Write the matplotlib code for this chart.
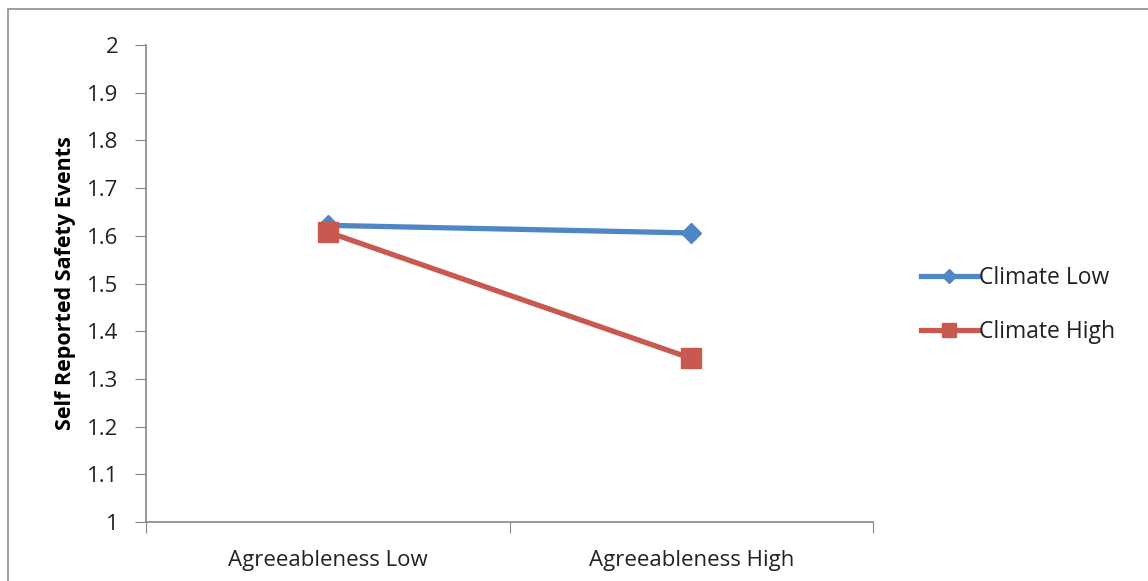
import matplotlib
matplotlib.use("Agg")
import matplotlib.pyplot as plt
from matplotlib.patches import Rectangle

# Data
categories = ["Agreeableness Low", "Agreeableness High"]
climate_low = [1.622, 1.606]
climate_high = [1.608, 1.343]
y_ticks = [1, 1.1, 1.2, 1.3, 1.4, 1.5, 1.6, 1.7, 1.8, 1.9, 2]
y_tick_labels = ["1", "1.1", "1.2", "1.3", "1.4", "1.5", "1.6", "1.7", "1.8", "1.9", "2"]

plt.rcParams['font.family'] = ['Open Sans', 'DejaVu Sans']
text_color = '#222222'

fig = plt.figure(figsize=(11.48, 5.81), dpi=100)
ax = fig.add_axes([0.1272, 0.1015, 0.6333, 0.821])

# outer chart frame
fig.patches.append(Rectangle((8 / 1148, -0.1), 1.2, 1.1 - 9 / 581,
                             transform=fig.transFigure, fill=False,
                             edgecolor='#8c8c8c', linewidth=1.2))

x = list(range(len(categories)))
ax.plot(x, climate_low, color='#4F86C6', linewidth=3.8, marker='D',
        markersize=10, label='Climate Low', zorder=3)
ax.plot(x, climate_high, color='#C9584F', linewidth=3.8, marker='s',
        markersize=14, label='Climate High', zorder=4)

ax.set_xlim(-0.5, len(categories) - 0.5)
ax.set_ylim(1, 2)

# category axis: tick marks between categories, labels in the middle
ax.set_xticks([i - 0.5 for i in range(len(categories) + 1)])
ax.set_xticklabels([])
ax.set_xticks(x, minor=True)
ax.set_xticklabels(categories, minor=True, fontsize=16, color=text_color)
ax.tick_params(axis='x', which='major', length=8, color='#868686', direction='out')
ax.tick_params(axis='x', which='minor', length=0, pad=20)

ax.set_yticks(y_ticks)
ax.set_yticklabels(y_tick_labels, fontsize=16, color=text_color)
ax.tick_params(axis='y', length=8, color='#868686', direction='out', pad=12)

for side in ['top', 'right']:
    ax.spines[side].set_visible(False)
for side in ['left', 'bottom']:
    ax.spines[side].set_color('#868686')
    ax.spines[side].set_linewidth(1.2)

ax.set_ylabel('Self Reported Safety Events', fontsize=15.5, fontweight='bold',
              labelpad=8, color='black')

ax.legend(loc='center left', bbox_to_anchor=(900 / 1148, 1 - 305 / 581),
          bbox_transform=fig.transFigure, frameon=False, fontsize=16.5,
          handlelength=2.5, handletextpad=0.05, labelspacing=1.35, markerscale=0.75,
          labelcolor=text_color)

fig.savefig('out.png', dpi=100)
